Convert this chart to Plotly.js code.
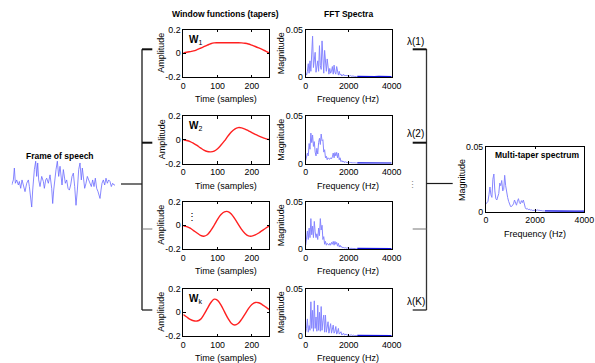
<!DOCTYPE html>
<html>
<head>
<meta charset="utf-8">
<script src="https://cdn.plot.ly/plotly-3.0.1.min.js"></script>
<style>
  html, body { margin: 0; padding: 0; background: #fff; }
  #chart { width: 595px; height: 363px; }
</style>
</head>
<body>
<div id="chart"></div>
<script>
// ---------- data ----------
// Speech frame (arbitrary time index vs normalised amplitude)
const speechT = [0,5,8,11,15,20,23,27,31,35,40,45,50,53,57,60,63,65,68,72,75,78,81,85,90,95,98,102,105,110,115,120,123,126,130,133,137,141,145,148,151,155,158,161,165,169,173,177,181,185,189,193,197,201,205,209,212,215,219,223,227,231,235,239,243,247,251,255,259,262,265,268,271,275,279,283,287,291,295,299,303,307,310];
const speechAmp = [-0.08,0.15,0.69,0,0.15,-0.08,0.08,-0.23,0.15,-0.08,-0.38,0,0.15,-0.15,-0.62,-1.08,-0.31,0.15,0.62,1.0,0.31,0.92,0.15,-0.15,0.31,0.08,-0.23,0.15,0.23,0,0.38,-0.23,-0.92,-0.31,0.31,0.62,1.0,0.31,0.77,0.23,-0.08,0.62,0.31,0,0.15,-0.23,-0.31,-0.08,0.31,0.46,-0.15,-1.0,-0.31,0.62,0.92,0.15,0.69,0.23,-0.23,0,0.31,0.15,0,-0.15,0.15,-0.15,0.23,-0.23,-0.38,-0.54,-0.69,-0.31,0,0.15,-0.08,0.23,0,0.15,0.08,-0.15,0,-0.08,-0.08];

// Taper sample positions and the four window functions
const sampleIdx = [0,10,20,30,40,50,60,70,80,90,100,110,120,130,140,150,160,170,180,190,200,210,220,230,240,250];
const taper1 = [0.003,0.008,0.014,0.02,0.03,0.042,0.055,0.068,0.08,0.087,0.088,0.088,0.088,0.088,0.088,0.088,0.088,0.087,0.084,0.078,0.068,0.057,0.045,0.032,0.018,0.004];
const taper2 = [0.0,-0.006,-0.015,-0.03,-0.048,-0.068,-0.087,-0.099,-0.102,-0.095,-0.075,-0.045,-0.01,0.03,0.065,0.09,0.102,0.1,0.09,0.075,0.06,0.045,0.032,0.02,0.01,0.002];
const taper3 = [-0.005,-0.012,-0.025,-0.045,-0.065,-0.085,-0.092,-0.08,-0.045,0.0,0.05,0.09,0.113,0.115,0.095,0.055,0.01,-0.035,-0.07,-0.09,-0.092,-0.082,-0.065,-0.045,-0.025,-0.008];
const taperK = [-0.02,-0.04,-0.06,-0.072,-0.074,-0.06,-0.02,0.03,0.08,0.11,0.1,0.06,0.005,-0.05,-0.092,-0.107,-0.095,-0.06,-0.015,0.03,0.065,0.082,0.08,0.065,0.045,0.024];

// Spectra: low band (0-2400 Hz, 40 Hz steps) and the near-zero tail (2400-4000 Hz)
const freqLow = [0,40,80,120,160,200,240,280,320,360,400,440,480,520,560,600,640,680,720,760,800,840,880,920,960,1000,1040,1080,1120,1160,1200,1240,1280,1320,1360,1400,1440,1480,1520,1560,1600,1640,1680,1720,1760,1800,1840,1880,1920,1960,2000,2040,2080,2120,2160,2200,2240,2280,2320,2360,2400];
const freqTail = [2400,2600,2800,3000,3200,3400,3600,3800,4000];

const spec1Low = [0.004,0.002,0.006,0.014,0.004,0.017,0.006,0.03,0.043,0.01,0.02,0.026,0.005,0.012,0.017,0.006,0.033,0.012,0.008,0.038,0.015,0.004,0.028,0.01,0.006,0.019,0.007,0.003,0.009,0.004,0.006,0.011,0.003,0.0125,0.005,0.003,0.011,0.006,0.002,0.006,0.002,0.003,0.001,0.002,0.003,0.001,0.002,0.001,0.002,0.001,0.0015,0.001,0.0015,0.0008,0.0012,0.0006,0.001,0.0005,0.0008,0.0004,0.0005];
const spec1Tail = [0.0005,0.0003,0.0004,0.0003,0.0003,0.0004,0.0003,0.0003,0.0003];

const spec2Low = [0.003,0.006,0.011,0.008,0.021,0.015,0.032,0.022,0.03,0.018,0.023,0.012,0.008,0.016,0.01,0.022,0.0265,0.02,0.031,0.024,0.025,0.012,0.0145,0.006,0.0076,0.004,0.006,0.005,0.0045,0.006,0.005,0.007,0.011,0.006,0.0115,0.008,0.0117,0.006,0.011,0.004,0.006,0.002,0.003,0.0015,0.0025,0.001,0.002,0.001,0.0015,0.0008,0.0012,0.0008,0.001,0.0006,0.0009,0.0005,0.0007,0.0004,0.0006,0.0004,0.0004];
const spec2Tail = [0.0004,0.0003,0.0003,0.0004,0.0003,0.0003,0.0003,0.0004,0.0003];

const spec3Low = [0.004,0.01,0.019,0.01,0.022,0.012,0.032,0.015,0.024,0.012,0.029,0.018,0.012,0.016,0.01,0.022,0.014,0.032,0.02,0.025,0.01,0.013,0.005,0.008,0.004,0.006,0.005,0.004,0.006,0.004,0.007,0.005,0.008,0.004,0.008,0.005,0.007,0.003,0.006,0.002,0.004,0.002,0.0025,0.001,0.002,0.001,0.0015,0.0008,0.0012,0.0007,0.001,0.0006,0.0009,0.0005,0.0007,0.0004,0.0006,0.0004,0.0005,0.0003,0.0004];
const spec3Tail = [0.0004,0.0003,0.0003,0.0003,0.0004,0.0003,0.0003,0.0003,0.0003];

const specKLow = [0.004,0.008,0.018,0.004,0.011,0.006,0.036,0.008,0.027,0.005,0.037,0.008,0.02,0.005,0.0325,0.006,0.025,0.005,0.031,0.006,0.016,0.022,0.004,0.022,0.004,0.01,0.015,0.003,0.008,0.013,0.003,0.006,0.0115,0.003,0.005,0.01,0.002,0.004,0.008,0.002,0.003,0.0045,0.001,0.002,0.003,0.001,0.0015,0.002,0.0008,0.0012,0.0015,0.0006,0.001,0.0012,0.0005,0.0008,0.0009,0.0004,0.0006,0.0006,0.0004];
const specKTail = [0.0004,0.0003,0.0004,0.0003,0.0003,0.0003,0.0004,0.0003,0.0003];

const specMTLow = [0.006,0.007,0.008,0.013,0.019,0.013,0.011,0.025,0.029,0.016,0.01,0.009,0.011,0.014,0.022,0.02,0.024,0.016,0.017,0.028,0.02,0.014,0.011,0.008,0.006,0.004,0.004,0.005,0.006,0.009,0.007,0.005,0.008,0.01,0.007,0.006,0.0085,0.007,0.009,0.005,0.003,0.002,0.0025,0.0015,0.002,0.0012,0.0015,0.001,0.0012,0.0009,0.0011,0.0008,0.0015,0.001,0.0012,0.0008,0.001,0.0006,0.0007,0.0005,0.0005];
const specMTTail = [0.0005,0.0004,0.0004,0.0003,0.0004,0.0003,0.0003,0.0004,0.0003];

// Tick values and labels
const sampleTicks = [0, 100, 200];
const freqTicks = [0, 2000, 4000];
const ampTicks = [-0.2, 0, 0.2];
const ampTickText = ['-0.2', '0', '0.2'];
const magTicks = [0, 0.05];
const magTickText = ['0', '0.05'];

// Labels
const taperLabels = ['<b>W</b><sub>1</sub>', '<b>W</b><sub>2</sub>', '⋮', '<b>W</b><sub>k</sub>'];
const weightLabels = ['λ(1)', 'λ(2)', '⋮', 'λ(K)'];
const tapers = [taper1, taper2, taper3, taperK];
const specLow = [spec1Low, spec2Low, spec3Low, specKLow];
const specTail = [spec1Tail, spec2Tail, spec3Tail, specKTail];

// ---------- layout helpers ----------
const W = 595, H = 363;
const px = v => v / W;          // horizontal pixel -> paper
const py = v => 1 - v / H;      // vertical pixel -> paper
const FONT = '"Liberation Sans Narrow", "Arial Narrow", "Liberation Sans", Arial, sans-serif';
const RED = '#ff2020', LIGHTBLUE = '#8585ff', DARKBLUE = '#1010e0', SPEECH = '#6a6aff';
const FS = 9;

const rowTop = [29.5, 116, 201.5, 288.5];
const rowH = 47.5;
const winX = [183.3, 269];
const fftX = [305.7, 391.7];

function axis(extra) {
  return Object.assign({
    showline: true, mirror: 'ticks', linecolor: '#000', linewidth: 1,
    ticks: 'inside', ticklen: 2.5, tickcolor: '#000', tickwidth: 1,
    showgrid: false, zeroline: false, fixedrange: true,
    tickfont: { family: FONT, size: 8.8, color: '#000' }
  }, extra);
}

const layout = {
  width: W, height: H, autosize: false,
  margin: { l: 0, r: 0, t: 0, b: 0 },
  paper_bgcolor: '#fff', plot_bgcolor: '#fff',
  showlegend: false,
  font: { family: FONT, size: FS, color: '#000' },
  annotations: [], shapes: []
};
const traces = [];

function ann(text, x, y, opts) {
  layout.annotations.push(Object.assign({
    text: text, x: px(x), y: py(y), xref: 'paper', yref: 'paper',
    showarrow: false, xanchor: 'center', yanchor: 'middle',
    font: { family: FONT, size: FS, color: '#000' }
  }, opts || {}));
}
function seg(x0, y0, x1, y1, w, c) {
  layout.shapes.push({
    type: 'line', xref: 'paper', yref: 'paper',
    x0: px(x0), y0: py(y0), x1: px(x1), y1: py(y1),
    line: { color: c || '#1a1a1a', width: w || 1 }
  });
}

// ---------- taper and FFT panels ----------
for (let r = 0; r < 4; r++) {
  const top = rowTop[r], bot = top + rowH, mid = top + rowH / 2;
  const wn = r + 1, fn = r + 5;
  const wk = wn === 1 ? '' : String(wn);

  layout['xaxis' + wk] = axis({ domain: [px(winX[0]), px(winX[1])], range: [0, 250], tickvals: sampleTicks, anchor: 'y' + wk });
  layout['yaxis' + wk] = axis({ domain: [py(bot), py(top)], range: [-0.2, 0.2], tickvals: ampTicks, ticktext: ampTickText, anchor: 'x' + wk });
  layout['xaxis' + fn] = axis({ domain: [px(fftX[0]), px(fftX[1])], range: [0, 4000], tickvals: freqTicks, anchor: 'y' + fn });
  layout['yaxis' + fn] = axis({ domain: [py(bot), py(top)], range: [0, 0.05], tickvals: magTicks, ticktext: magTickText, anchor: 'x' + fn });

  traces.push({ x: sampleIdx, y: tapers[r], xaxis: 'x' + wk, yaxis: 'y' + wk, mode: 'lines',
    line: { color: RED, width: 1.4, shape: 'spline', smoothing: 1 }, hoverinfo: 'skip' });
  traces.push({ x: freqLow, y: specLow[r], xaxis: 'x' + fn, yaxis: 'y' + fn, mode: 'lines',
    line: { color: LIGHTBLUE, width: 1 }, hoverinfo: 'skip' });
  traces.push({ x: freqTail, y: specTail[r], xaxis: 'x' + fn, yaxis: 'y' + fn, mode: 'lines',
    line: { color: DARKBLUE, width: 1.6 }, hoverinfo: 'skip' });

  ann('Amplitude', 161.5, mid, { textangle: -90 });
  ann('Magnitude', 281, mid, { textangle: -90 });
  ann('Time (samples)', 226, bot + 22);
  ann('Frequency (Hz)', 348, bot + 22);

  if (r === 2) {
    ann(taperLabels[r], 192, top + 15, { font: { family: FONT, size: 10, color: '#000' } });
  } else {
    ann(taperLabels[r], 187, top + 10, { xanchor: 'left', font: { family: FONT, size: 10, color: '#000' } });
  }
}

// ---------- multi-taper panel ----------
layout.xaxis9 = axis({ domain: [px(486), px(584.3)], range: [0, 4000], tickvals: freqTicks, anchor: 'y9' });
layout.yaxis9 = axis({ domain: [py(211.7), py(146.7)], range: [0, 0.05], tickvals: magTicks, ticktext: magTickText, anchor: 'x9' });
traces.push({ x: freqLow, y: specMTLow, xaxis: 'x9', yaxis: 'y9', mode: 'lines',
  line: { color: LIGHTBLUE, width: 1 }, hoverinfo: 'skip' });
traces.push({ x: freqTail, y: specMTTail, xaxis: 'x9', yaxis: 'y9', mode: 'lines',
  line: { color: DARKBLUE, width: 1.6 }, hoverinfo: 'skip' });
ann('<b>Multi-taper spectrum</b>', 537.5, 155.5, { font: { family: FONT, size: 8.5, color: '#000' } });
ann('Magnitude', 462, 180, { textangle: -90 });
ann('Frequency (Hz)', 535, 234);

// ---------- speech frame ----------
layout.xaxis10 = { domain: [px(11.7), px(115)], range: [0, 310], visible: false, fixedrange: true, anchor: 'y10' };
layout.yaxis10 = { domain: [py(207.5), py(159)], range: [-1.1, 1.1], visible: false, fixedrange: true, anchor: 'x10' };
traces.push({ x: speechT, y: speechAmp, xaxis: 'x10', yaxis: 'y10', mode: 'lines',
  line: { color: SPEECH, width: 0.8 }, hoverinfo: 'skip' });
ann('<b>Frame of speech</b>', 59.7, 156, { font: { family: FONT, size: 8.5, color: '#000' } });

// ---------- column titles ----------
ann('<b>Window functions (tapers)</b>', 225.5, 14, { font: { family: FONT, size: 8.5, color: '#000' } });
ann('<b>FFT Spectra</b>', 348, 14, { font: { family: FONT, size: 8.5, color: '#000' } });

// ---------- fan-out bracket (speech -> tapers) ----------
const bracketY = [49.3, 142.7, 229, 310];
const bracketW = [2, 2, 1, 1.3];
const bracketC = ['#111', '#111', '#777', '#222'];
seg(121, 184, 142, 184, 1.2);
seg(142, 49.3, 142, 310, 1.3);
for (let i = 0; i < 4; i++) seg(142, bracketY[i], 152.3, bracketY[i], bracketW[i], bracketC[i]);

// ---------- weighting bracket (spectra -> multi-taper) ----------
seg(426.5, 49, 426.5, 310, 1.3, '#333');
for (let i = 0; i < 4; i++) seg(412.7, bracketY[i], 426.5, bracketY[i], bracketW[i], bracketC[i]);
seg(426.5, 183.5, 452.7, 183.5, 1.2);
const weightY = [41.5, 133, 185, 301];
for (let i = 0; i < 4; i++) {
  ann(weightLabels[i], i === 2 ? 412 : 415.5, weightY[i],
      { font: { family: FONT, size: i === 2 ? 9 : 10, color: i === 2 ? '#888' : '#000' } });
}

Plotly.newPlot('chart', traces, layout, { staticPlot: true, displayModeBar: false });
</script>
</body>
</html>
